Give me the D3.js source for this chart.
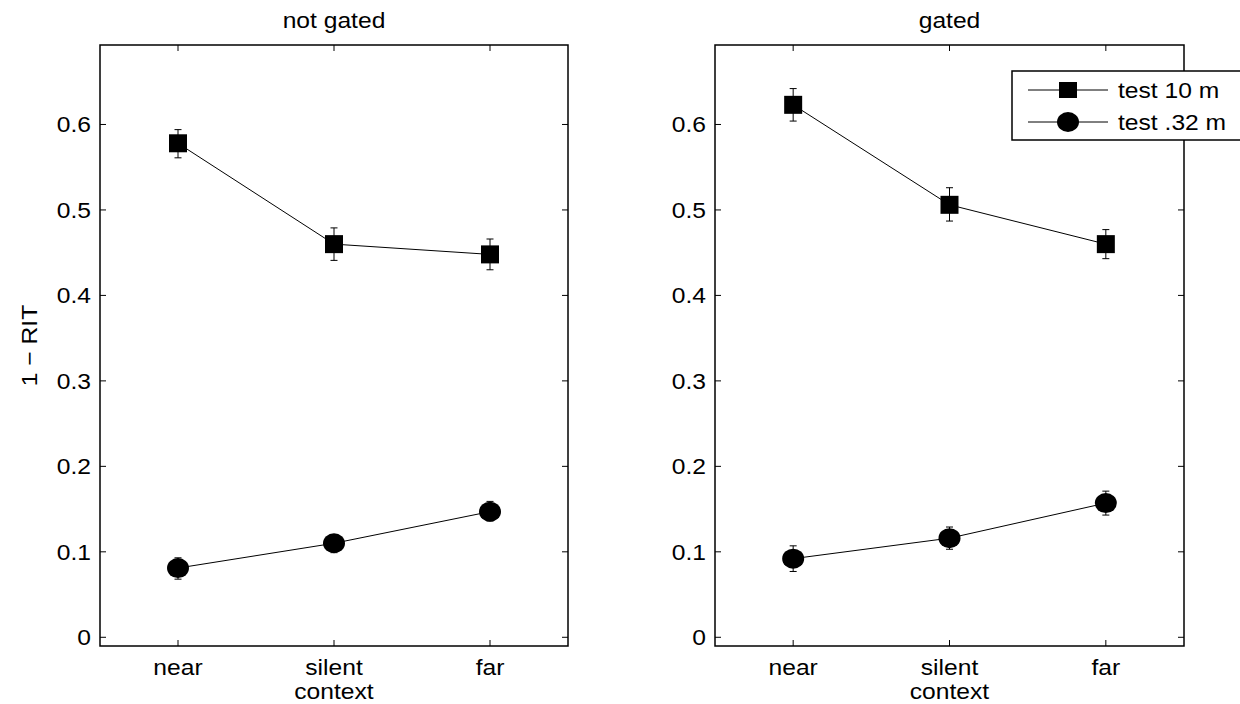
<!DOCTYPE html>
<html><head><meta charset="utf-8">
<script src="https://cdn.jsdelivr.net/npm/d3@7"></script>
<style>body{margin:0;background:#fff}svg{display:block}text{font-family:"Liberation Sans",Arial,sans-serif;fill:#000}</style>
</head><body><svg id="c" width="1240" height="704"></svg>
<script>
const categories = ["near","silent","far"];
const panelTitles = ["not gated","gated"];
const seriesNames = ["test 10 m","test .32 m"];
const yTicks = [0,0.1,0.2,0.3,0.4,0.5,0.6];
// not gated
const ngFar10 = [0.578,0.460,0.448];
const ngFar10Lo = [0.561,0.441,0.430];
const ngFar10Hi = [0.594,0.479,0.466];
const ngNear32 = [0.081,0.110,0.147];
const ngNear32Lo = [0.068,0.099,0.136];
const ngNear32Hi = [0.093,0.120,0.159];
// gated
const gFar10 = [0.623,0.506,0.460];
const gFar10Lo = [0.604,0.487,0.443];
const gFar10Hi = [0.642,0.526,0.477];
const gNear32 = [0.092,0.116,0.157];
const gNear32Lo = [0.077,0.103,0.143];
const gNear32Hi = [0.107,0.129,0.171];

const panels = [
  {x0:100,x1:568,title:panelTitles[0],series:[[ngFar10,ngFar10Lo,ngFar10Hi],[ngNear32,ngNear32Lo,ngNear32Hi]]},
  {x0:715,x1:1184,title:panelTitles[1],series:[[gFar10,gFar10Lo,gFar10Hi],[gNear32,gNear32Lo,gNear32Hi]]}
];
const svg = d3.select("#c");
const yTop=45, yBot=646;
const y = d3.scaleLinear().domain([-0.0102,0.693]).range([yBot,yTop]);
const fs = 22, sx = 1.12;

function txt(g,x,yy,s,anchor,dy,rot){
  return g.append("text")
    .attr("transform",`translate(${x},${yy})${rot?` rotate(${rot})`:""} scale(${sx},1)`)
    .attr("text-anchor",anchor||"start").attr("dy",dy||0).attr("font-size",fs).text(s);
}

panels.forEach((p,pi)=>{
  const x = d3.scaleLinear().domain([0.5,3.5]).range([p.x0,p.x1]);
  const g = svg.append("g");
  const tl=6;
  yTicks.forEach(t=>{
    g.append("line").attr("x1",p.x0).attr("x2",p.x0+tl).attr("y1",y(t)).attr("y2",y(t)).attr("stroke","#000");
    g.append("line").attr("x1",p.x1).attr("x2",p.x1-tl).attr("y1",y(t)).attr("y2",y(t)).attr("stroke","#000");
    txt(g,p.x0-9,y(t),t===0?"0":d3.format(".1f")(t),"end","0.35em");
  });
  categories.forEach((c,i)=>{
    const cx=x(i+1);
    g.append("line").attr("x1",cx).attr("x2",cx).attr("y1",yBot).attr("y2",yBot-tl).attr("stroke","#000");
    g.append("line").attr("x1",cx).attr("x2",cx).attr("y1",yTop).attr("y2",yTop+tl).attr("stroke","#000");
    txt(g,cx,675,c,"middle");
  });
  g.append("rect").attr("x",p.x0).attr("y",yTop).attr("width",p.x1-p.x0).attr("height",yBot-yTop).attr("fill","none").attr("stroke","#000").attr("stroke-width",1.5);
  txt(g,(p.x0+p.x1)/2,699,"context","middle");
  txt(g,(p.x0+p.x1)/2,28,p.title,"middle");
  if(pi===0){
    txt(g,37,(yTop+yBot)/2,"1 \u2212 RIT","middle",0,-90);
  }
  p.series.forEach((s,si)=>{
    const [v,lo,hi]=s;
    g.append("path").datum(v).attr("fill","none").attr("stroke","#000").attr("stroke-width",1)
      .attr("d",d3.line().x((d,i)=>x(i+1)).y(d=>y(d)));
    v.forEach((d,i)=>{
      const cx=x(i+1);
      g.append("line").attr("x1",cx).attr("x2",cx).attr("y1",y(lo[i])).attr("y2",y(hi[i])).attr("stroke","#000");
      [lo[i],hi[i]].forEach(e=>g.append("line").attr("x1",cx-3.5).attr("x2",cx+3.5).attr("y1",y(e)).attr("y2",y(e)).attr("stroke","#000"));
      if(si===0) g.append("rect").attr("x",cx-9).attr("y",y(d)-9).attr("width",18).attr("height",18).attr("fill","#000");
      else g.append("ellipse").attr("cx",cx).attr("cy",y(d)).attr("rx",11).attr("ry",10).attr("fill","#000");
    });
  });
});
// legend
const lg = svg.append("g");
lg.append("rect").attr("x",1012).attr("y",71).attr("width",240).attr("height",69).attr("fill","#fff").attr("stroke","#000").attr("stroke-width",1.5);
seriesNames.forEach((n,i)=>{
  const ly = i===0?90:122;
  lg.append("line").attr("x1",1028).attr("x2",1108).attr("y1",ly).attr("y2",ly).attr("stroke","#000");
  if(i===0) lg.append("rect").attr("x",1059).attr("y",ly-8).attr("width",18).attr("height",16).attr("fill","#000");
  else lg.append("ellipse").attr("cx",1068).attr("cy",ly).attr("rx",11).attr("ry",10).attr("fill","#000");
  txt(lg,1118,ly,n,"start","0.35em");
});
</script></body></html>
